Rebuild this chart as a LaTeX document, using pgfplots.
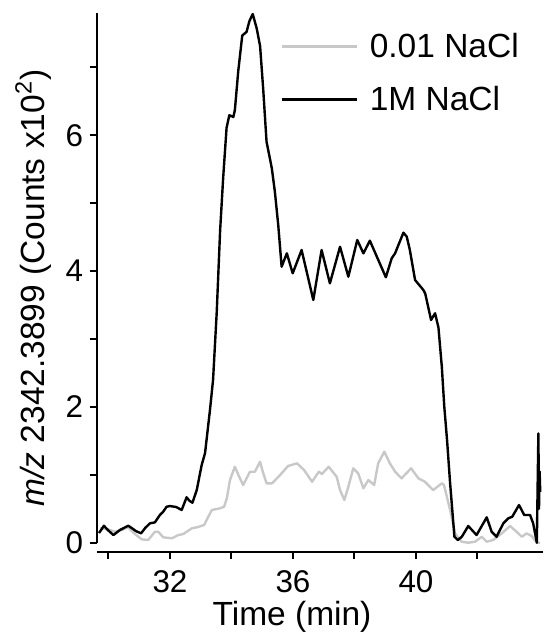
\documentclass[border=0pt]{standalone}
\usepackage{pgfplots}
\pgfplotsset{compat=1.18}
\usepackage{fontspec}
\setmainfont{Liberation Sans}
\definecolor{lightgray}{RGB}{200,200,200}
\begin{document}
\begin{tikzpicture}
\begin{axis}[
  at={(0,0)}, anchor=south west,
  scale only axis,
  width=223.15pt, height=269.6pt,
  xmin=29.626, xmax=44.14,
  ymin=-0.141, ymax=7.80,
  axis x line=bottom, axis y line=left,
  separate axis lines,
  axis line style={-, line width=1pt, black},
  y axis line style={shorten <=4.8pt},
  xtick={32,36,40}, ytick={0,2,4,6},
  minor xtick={30,34,38,42}, minor ytick={1,3,5,7},
  tick align=outside,
  major tick length=3.4pt, minor tick length=3.4pt,
  tick style={line width=1pt, black},
  /pgf/number format/assume math mode=true,
  tick label style={font=\fontsize{15.7}{18}\selectfont},
  xticklabel style={yshift=-2pt},
  xlabel={Time (min)},
  ylabel={{\itshape m/z} 2342.3899 (Counts x10\textsuperscript{2})},
  label style={font=\fontsize{16.75}{20}\selectfont},
  xlabel style={at={(axis description cs:0.437,-0.12)}, anchor=center},
  ylabel style={at={(axis description cs:-0.143,0.49)}, anchor=center},
  legend style={draw=none, fill=none, at={(rel axis cs:0.41,0.968)}, anchor=north west,
    font=\fontsize{16.75}{20}\selectfont, row sep=11pt, inner sep=0pt,
    nodes={inner sep=1pt},
    /tikz/every odd column/.append style={column sep=5pt}},
  legend cell align=left,
  legend image code/.code={\draw[#1] (0pt,0pt) -- (37.5pt,0pt);},
  clip=false,
]
\addplot[color=lightgray, line width=1.2pt, line join=round] coordinates {
(29.72,0.212)(29.99,0.197)(30.21,0.162)(30.43,0.187)(30.64,0.227)(30.86,0.128)
(31.08,0.050)(31.29,0.040)(31.51,0.162)(31.62,0.162)(31.78,0.080)(32.06,0.065)
(32.27,0.113)(32.43,0.128)(32.71,0.212)(32.91,0.231)(33.11,0.261)(33.24,0.378)
(33.36,0.482)(33.63,0.507)(33.76,0.530)(33.85,0.658)(33.95,0.923)(34.11,1.119)
(34.24,0.982)(34.38,0.850)(34.60,1.046)(34.76,1.046)(34.93,1.193)(35.02,1.041)
(35.14,0.875)(35.32,0.875)(35.58,0.997)(35.84,1.130)(36.13,1.169)(36.36,1.071)
(36.62,0.898)(36.84,1.046)(36.94,1.012)(37.16,1.119)(37.42,0.972)(37.53,0.776)
(37.67,0.629)(37.80,0.825)(37.96,1.096)(38.12,1.022)(38.29,0.801)(38.45,0.923)
(38.64,0.850)(38.77,1.169)(38.97,1.340)(39.15,1.169)(39.32,1.046)(39.53,0.948)
(39.84,1.096)(40.08,0.948)(40.29,0.898)(40.56,0.776)(40.84,0.875)(40.91,0.850)
(41.11,0.482)(41.27,0.138)(41.48,0.015)(41.70,0.0)(41.92,0.015)(42.14,0.088)
(42.30,0.015)(42.51,0.040)(42.79,0.138)(43.06,0.246)(43.27,0.162)(43.44,0.088)
(43.60,0.138)(43.76,0.099)(43.93,0.0)(44.04,0.0)
};
\addlegendentry{0.01 NaCl}
\addplot[color=black, line width=1.2pt, line join=round] coordinates {
(29.69,0.143)(29.76,0.187)(29.85,0.250)(29.98,0.187)(30.16,0.113)(30.37,0.187)
(30.64,0.250)(30.77,0.212)(30.89,0.172)(31.06,0.138)(31.19,0.216)(31.35,0.286)
(31.51,0.300)(31.67,0.408)(31.77,0.452)(31.89,0.530)(32.00,0.540)(32.20,0.526)
(32.38,0.482)(32.54,0.669)(32.63,0.619)(32.73,0.589)(32.87,0.776)(33.03,1.144)
(33.14,1.321)(33.30,1.955)(33.40,2.397)(33.52,3.398)(33.63,4.598)(33.73,5.381)
(33.84,6.112)(33.93,6.296)(34.06,6.270)(34.11,6.373)(34.22,6.948)(34.35,7.470)
(34.49,7.523)(34.58,7.679)(34.69,7.786)(34.82,7.574)(34.93,7.314)(35.03,6.686)
(35.14,5.904)(35.31,5.518)(35.41,5.172)(35.52,4.679)(35.63,4.065)(35.80,4.262)
(35.99,3.968)(36.28,4.311)(36.66,3.575)(36.93,4.311)(37.20,3.820)(37.53,4.359)
(37.80,3.918)(38.09,4.458)(38.29,4.262)(38.50,4.448)(39.02,3.909)(39.21,4.189)
(39.32,4.262)(39.59,4.566)(39.70,4.507)(39.80,4.311)(39.97,3.869)(40.24,3.722)
(40.30,3.67)(40.49,3.28)(40.62,3.38)(40.73,3.17)(40.84,2.59)(40.92,2.003)
(41.01,1.513)(41.11,0.874)(41.25,0.088)(41.36,0.040)(41.49,0.088)(41.70,0.246)
(41.97,0.113)(42.30,0.374)(42.46,0.162)(42.62,0.088)(42.84,0.286)(43.00,0.359)
(43.13,0.383)(43.35,0.555)(43.52,0.408)(43.71,0.408)(43.81,0.286)(43.93,0.0)
(43.98,1.61)(44.00,0.50)(44.02,1.05)(44.04,0.75)
};
\addlegendentry{1M NaCl}
\end{axis}
\pgfresetboundingbox
\path[use as bounding box] (-48.5pt,-42.35pt) rectangle (223.5pt,276.15pt);
\end{tikzpicture}
\end{document}
